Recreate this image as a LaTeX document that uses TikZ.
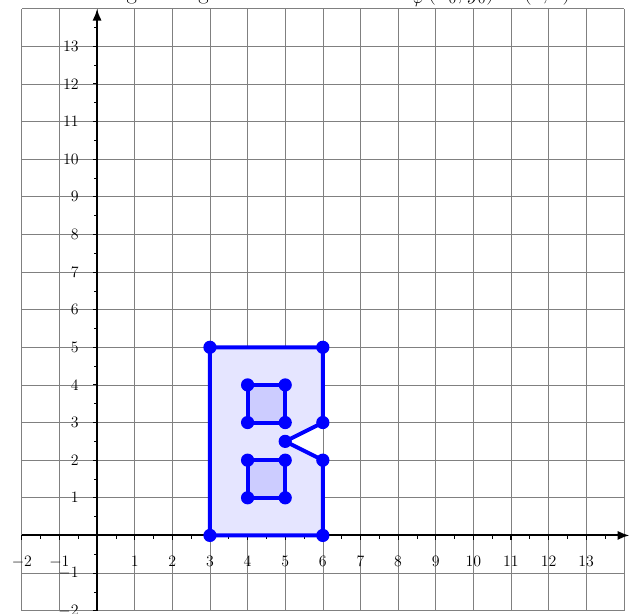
\documentclass[tikz,border=0pt]{standalone}
\usepackage{amsmath}
\usetikzlibrary{arrows.meta}
\tikzset{
    figline/.style={blue, line width=3pt, line join=round},
    figdot/.style={circle, fill=blue, inner sep=0pt, minimum size=10pt},
    ticklabel/.style={font=\fontsize{13}{15}\selectfont, inner sep=1pt}
}
\begin{document}
\begin{tikzpicture}[>={Latex[length=9pt, width=7pt]}]
    \useasboundingbox (-2.58,-2.07) rectangle (14.19,14.23);
    % Titel (oben abgeschnitten)
    \node[anchor=base, font=\fontsize{17}{19}\selectfont] (title) at (5.8,14.24)
        {Drehung der Figur mit Drehzentrum $Z_\varphi\,(x_0,y_0) = (0,0)$};

    % Gitter
    \draw[gray, line width=0.5pt] (-2,-2) grid (14,14);

    % Hilfsstriche
    \foreach \t in {-1.5,-0.5,...,13.5}
        \draw[line width=0.5pt] (\t,0) -- (\t,-0.09) (0,\t) -- (-0.09,\t);
    \foreach \t in {-2,...,13}
        \draw[line width=0.8pt] (\t,0) -- (\t,-0.12) (0,\t) -- (-0.12,\t);

    % Achsen
    \draw[->, line width=1.6pt] (-2,0) -- (14.15,0);
    \draw[->, line width=1.6pt] (0,-2) -- (0,14);

    % Beschriftung
    \foreach \t in {-2,-1,1,2,...,13} {
        \node[ticklabel, anchor=north] (xl\t) at (\t,-0.5) {$\t$};
        \node[ticklabel, anchor=east] (yl\t) at (-0.45,\t) {$\t$};
    }

    % Figur
    \coordinate (A) at (3,0);
    \coordinate (B) at (3,5);
    \coordinate (C) at (6,5);
    \coordinate (D) at (6,3);
    \coordinate (E) at (5,2.5);
    \coordinate (F) at (6,2);
    \coordinate (G) at (6,0);
    \coordinate (P1) at (4,3);
    \coordinate (P2) at (4,4);
    \coordinate (P3) at (5,4);
    \coordinate (P4) at (5,3);
    \coordinate (Q1) at (4,1);
    \coordinate (Q2) at (4,2);
    \coordinate (Q3) at (5,2);
    \coordinate (Q4) at (5,1);
    \filldraw[figline, fill=blue!10] (A) -- (B) -- (C) -- (D) -- (E) -- (F) -- (G) -- cycle;
    \filldraw[figline, fill=blue!20] (P1) -- (P2) -- (P3) -- (P4) -- cycle;
    \filldraw[figline, fill=blue!20] (Q1) -- (Q2) -- (Q3) -- (Q4) -- cycle;
    \foreach \p in {A,B,C,D,E,F,G,P1,P2,P3,P4,Q1,Q2,Q3,Q4}
        \node[figdot] (dot\p) at (\p) {};

\end{tikzpicture}
\end{document}
